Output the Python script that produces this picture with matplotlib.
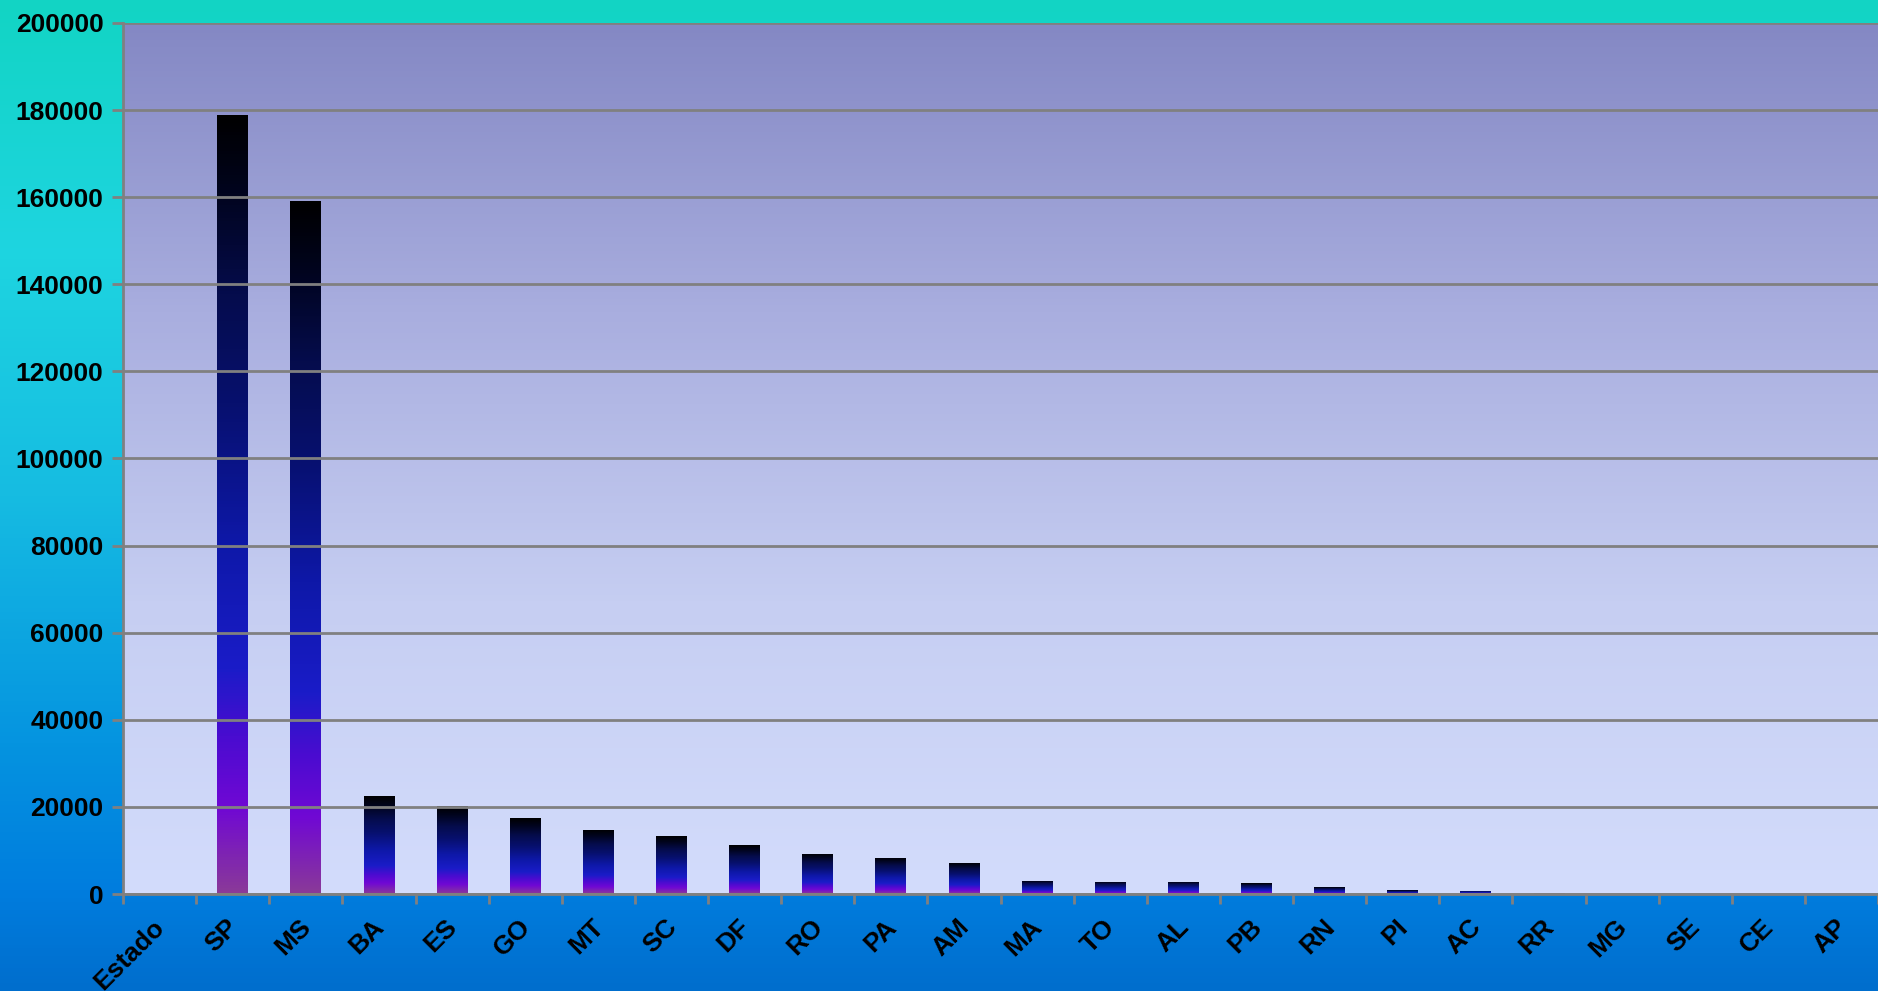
import numpy as np
import matplotlib
matplotlib.use("Agg")
import matplotlib.pyplot as plt
import matplotlib.transforms as mtransforms
from matplotlib.colors import LinearSegmentedColormap

# data
estados = ["Estado", "SP", "MS", "BA", "ES", "GO", "MT", "SC", "DF", "RO", "PA", "AM",
           "MA", "TO", "AL", "PB", "RN", "PI", "AC", "RR", "MG", "SE", "CE", "AP"]
valores = [0, 178900, 159200, 22500, 20200, 17450, 14700, 13300, 11250, 9200, 8270, 7120,
           3000, 2800, 2800, 2500, 1600, 900, 700, 200, 0, 0, 0, 0]
y_ticks = list(range(0, 200001, 20000))

W, H, DPI = 1878, 991, 100

plt.rcParams['font.family'] = ['Liberation Sans', 'DejaVu Sans']
plt.rcParams['font.weight'] = 'bold'

fig = plt.figure(figsize=(W / DPI, H / DPI), dpi=DPI)

# figure background: teal at top to blue at bottom
bg_cmap = LinearSegmentedColormap.from_list("bg", [
    (0.0, "#006ECD"), (0.10, "#007DDE"), (0.25, "#0594E0"),
    (0.50, "#16BCE2"), (0.75, "#1ED5E0"), (1.0, "#12D4C4")])
bg_ax = fig.add_axes([0, 0, 1, 1], zorder=-10)
bg_ax.imshow(np.linspace(0, 1, 256).reshape(-1, 1), cmap=bg_cmap, origin="lower",
             aspect="auto", extent=[0, 1, 0, 1])
bg_ax.axis("off")

ax = fig.add_axes([123 / W, 97 / H, 1755 / W, 871 / H])
ax.patch.set_alpha(0)

# plot area background gradient
plot_cmap = LinearSegmentedColormap.from_list("plotbg", ["#D3DCFC", "#C6CEF2", "#A9AEDF", "#8488C4"])
ax.imshow(np.linspace(0, 1, 256).reshape(-1, 1), cmap=plot_cmap, origin="lower",
          aspect="auto", extent=[0, 1, 0, 1], transform=ax.transAxes, zorder=0)

# bar gradient: mauve at the base, purple, blue, navy, black at the top
bar_cmap = LinearSegmentedColormap.from_list("bars", [
    (0.0, "#8A3A98"), (0.11, "#7008D4"), (0.20, "#4A0CD0"), (0.29, "#1A1CC8"),
    (0.45, "#0E18A8"), (0.63, "#07106E"), (0.77, "#050C4C"), (0.90, "#01041E"),
    (1.0, "#000000")])
grad = np.linspace(0, 1, 256).reshape(-1, 1)

x = np.arange(len(estados))
bars = ax.bar(x, valores, width=0.42, facecolor="none", edgecolor="none", zorder=2)
for rect in bars:
    h = rect.get_height()
    if h <= 0:
        continue
    x0 = rect.get_x()
    im = ax.imshow(grad, cmap=bar_cmap, origin="lower", aspect="auto",
                   extent=[x0, x0 + rect.get_width(), 0, h], zorder=2)
    im.set_clip_path(rect)

ax.set_xlim(-0.5, len(estados) - 0.5)
ax.set_ylim(0, 200000)

# grid
ax.set_yticks(y_ticks)
ax.set_yticklabels([str(v) for v in y_ticks])
ax.yaxis.grid(True, color="#808080", linewidth=2, zorder=1)
ax.set_axisbelow(False)
for gl in ax.get_ygridlines():
    gl.set_zorder(1)

# tick marks between categories, labels at the centres
ax.set_xticks(np.arange(-0.5, len(estados), 1.0))
ax.set_xticklabels([])
ax.set_xticks(x, minor=True)
ax.set_xticklabels(estados, minor=True, rotation=45, ha="right", va="top",
                   rotation_mode="anchor")
ax.tick_params(axis="x", which="minor", length=0, pad=10, labelsize=19)
ax.tick_params(axis="x", which="major", length=7, width=2, color="#808080")
ax.tick_params(axis="y", length=8, width=2, color="#808080", labelsize=19, pad=6)

# nudge the slanted labels down and left a little
shift = mtransforms.ScaledTranslation(-7 / DPI, -7 / DPI, fig.dpi_scale_trans)
for lbl in ax.get_xticklabels(minor=True):
    lbl.set_transform(lbl.get_transform() + shift)

for side in ["top", "right"]:
    ax.spines[side].set_visible(False)
for side in ["left", "bottom"]:
    ax.spines[side].set_color("#808080")
    ax.spines[side].set_linewidth(2)
    ax.spines[side].set_zorder(3)

fig.savefig("out.png", dpi=DPI)
